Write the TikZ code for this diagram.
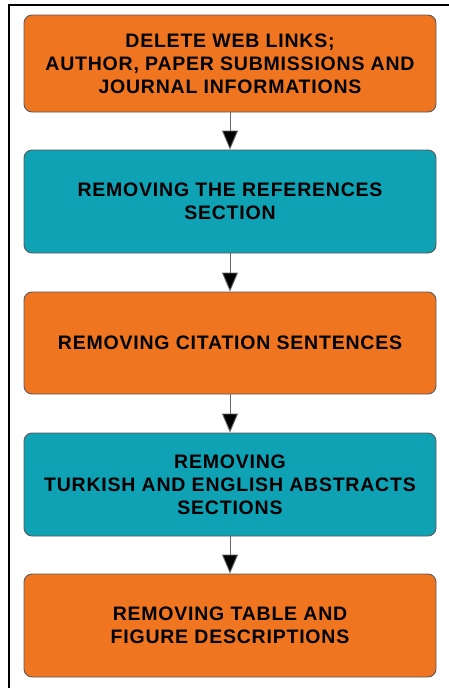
\documentclass[tikz,border=0pt]{standalone}
\usepackage{fontspec}
\setmainfont{Liberation Sans}
\newfontfamily\boxfont[LetterSpace=4]{Liberation Sans}
\usepackage{xcolor}
\usetikzlibrary{arrows.meta,positioning}

\definecolor{boxorange}{RGB}{239,117,32}
\definecolor{boxteal}{RGB}{15,161,180}

\begin{document}
\begin{tikzpicture}[x=1pt,y=-1pt,
 box/.style={draw=black!65,line width=0.9pt,rounded corners=8pt,minimum width=412pt,
  inner sep=0pt,align=center,font=\boxfont\fontsize{19.5}{23}\selectfont\bfseries},
 obox/.style={box,fill=boxorange},
 tbox/.style={box,fill=boxteal},
 arr/.style={-{Triangle[length=19pt,width=16pt,fill=black]},draw=black!60,line width=0.9pt}]
 \useasboundingbox (0,0) rectangle (448,688);
 % outer frame
 \draw[line width=2pt] (8.5,700) -- (8.5,4.5) -- (460,4.5);
 % steps
 \node[obox,minimum height=97pt] (dellinks) at (230,63.5) {DELETE WEB LINKS;\\AUTHOR, PAPER SUBMISSIONS AND\\JOURNAL INFORMATIONS};
 \node[tbox,minimum height=103pt] (refsec) at (230,201.5) {REMOVING THE REFERENCES\\SECTION};
 \node[obox,minimum height=102pt] (citsent) at (230,343) {REMOVING CITATION SENTENCES};
 \node[tbox,minimum height=103pt] (abstr) at (230,484.5) {REMOVING\\TURKISH AND ENGLISH ABSTRACTS\\SECTIONS};
 \node[obox,minimum height=103pt] (tabfig) at (230,625.5) {REMOVING TABLE AND\\FIGURE DESCRIPTIONS};
 % arrows
 \draw[arr] (dellinks) -- (refsec);
 \draw[arr] (refsec) -- (citsent);
 \draw[arr] (citsent) -- (abstr);
 \draw[arr] (abstr) -- (tabfig);
\end{tikzpicture}
\end{document}
